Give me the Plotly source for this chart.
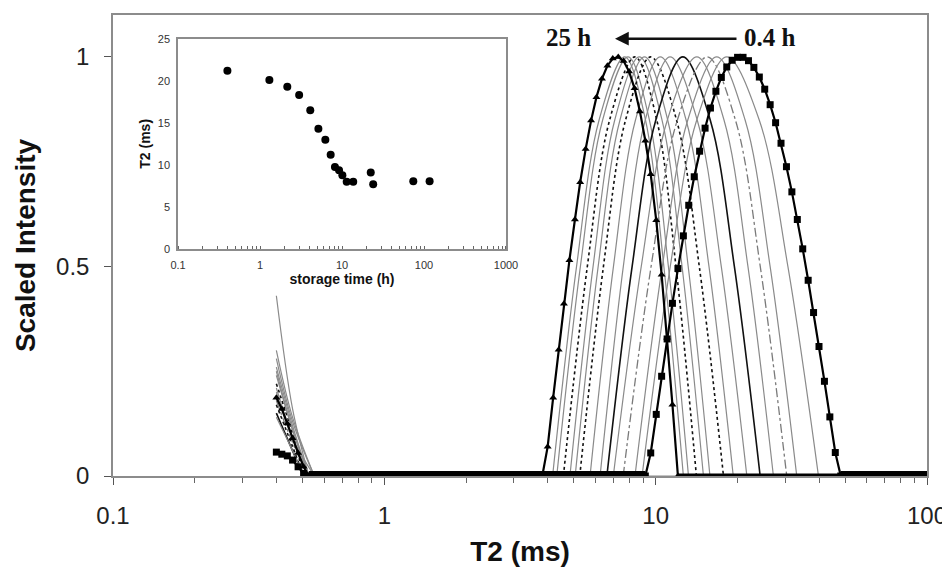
import plotly.graph_objects as go

# ---------------- inset data: T2 vs storage time ----------------
inset_hours = [0.4, 1.3, 2.15, 3.0, 4.1, 5.15, 6.26, 7.27, 8.2, 9.2, 10.1, 11.4, 13.7, 22.4, 24.0, 74.0, 117.0]
inset_t2 = [21.2, 20.1, 19.3, 18.3, 16.5, 14.3, 13.0, 11.2, 9.75, 9.35, 8.77, 8.0, 8.0, 9.1, 7.7, 8.05, 8.05]

# ---------------- main chart: 0.4 h curve (squares) ----------------
sq_short_t2 = [0.4, 0.419, 0.439, 0.459, 0.481, 0.504, 0.527]
sq_short_int = [0.057, 0.052, 0.048, 0.038, 0.022, 0.006, 0.0]
sq_peak_t2 = [9.16, 9.59, 10.05, 10.52, 11.02, 11.53, 12.08, 12.65, 13.24, 13.87, 14.52, 15.21, 15.92,
              16.67, 17.46, 18.28, 19.14, 20.04, 20.99, 21.98, 23.01, 24.10, 25.23, 26.42, 27.67,
              28.97, 30.34, 31.77, 33.27, 34.83, 36.48, 38.19, 39.99, 41.88, 43.85, 45.92, 48.1, 100.0]
sq_peak_int = [0.0, 0.055, 0.147, 0.238, 0.327, 0.412, 0.495, 0.573, 0.646, 0.714, 0.775, 0.830, 0.878,
               0.918, 0.951, 0.976, 0.992, 0.999, 0.999, 0.991, 0.975, 0.952, 0.923, 0.886, 0.843,
               0.794, 0.738, 0.678, 0.612, 0.542, 0.467, 0.390, 0.309, 0.226, 0.141, 0.056, 0.0, 0.0]

# ---------------- main chart: 25 h curve (triangles) ----------------
tri_short_t2 = [0.4, 0.419, 0.439, 0.459, 0.481, 0.504, 0.527]
tri_short_int = [0.187, 0.16, 0.125, 0.09, 0.055, 0.022, 0.0]
tri_peak_t2 = [3.82, 4.00, 4.19, 4.39, 4.59, 4.81, 5.04, 5.27, 5.52, 5.78, 6.05, 6.34, 6.64, 6.95,
               7.28, 7.62, 7.98, 8.36, 8.75, 9.16, 9.59, 10.05, 10.52, 11.02, 11.53, 12.08, 100.0]
tri_peak_int = [0.0, 0.07, 0.187, 0.301, 0.411, 0.515, 0.612, 0.701, 0.780, 0.848, 0.904, 0.948, 0.979, 0.996,
                1.0, 0.99, 0.965, 0.925, 0.87, 0.80, 0.72, 0.61, 0.48, 0.33, 0.17, 0.0, 0.0]

# zero-intensity stretches (thick marker bands along the baseline)
sq_zero_t2 = [0.527, 9.16, None, 48.1, 100.0]
tri_zero_t2 = [0.527, 3.82, None, 12.08, 100.0]
thin_zero_t2 = [0.504, 100.0]

# ---------------- intermediate storage times (thin curves) ----------------
thin_short0 = [0.26, 0.25, 0.22, 0.21, 0.20, 0.17, 0.43, 0.28, 0.15, 0.30, 0.18, 0.14, 0.24]
thin_short_mid = [0.12, 0.11, 0.10, 0.09, 0.09, 0.07, 0.16, 0.13, 0.06, 0.14, 0.08, 0.06, 0.11]
thin_short_end = [0.527, 0.527, 0.504, 0.527, 0.552, 0.504, 0.527, 0.552, 0.504, 0.552, 0.527, 0.504, 0.527]
thin_start = [4.17, 4.32, 4.57, 4.83, 5.05, 5.25, 5.73, 6.24, 6.61, 6.98, 7.59, 8.39, 8.91]
thin_half_left = [5.11, 5.28, 5.60, 5.88, 6.14, 6.42, 6.99, 7.60, 8.19, 8.85, 9.62, 10.58, 11.32]
thin_c85_left = [6.19, 6.38, 6.77, 7.07, 7.39, 7.75, 8.43, 9.16, 10.02, 11.05, 12.03, 13.14, 14.18]
thin_peak = [7.69, 7.91, 8.39, 8.71, 9.10, 9.59, 10.40, 11.30, 12.59, 14.19, 15.49, 16.79, 18.28]
thin_c85_right = [9.17, 9.48, 10.09, 10.55, 11.07, 11.93, 12.94, 14.22, 15.88, 17.85, 19.66, 21.35, 24.07]
thin_half_right = [10.72, 11.14, 11.88, 12.51, 13.18, 14.48, 15.72, 17.45, 19.50, 21.88, 24.29, 26.41, 30.71]
thin_end = [12.65, 13.21, 14.13, 15.0, 15.85, 17.78, 19.32, 21.68, 24.27, 27.16, 30.41, 33.11, 39.81]
key_levels = [0.0, 0.5, 0.85, 1.0, 0.85, 0.5, 0.0]
thin_style = ["g", "g", "dot", "g", "g", "dot", "g", "g", "k", "g", "dashdot", "g", "g"]

x_ticks = [0.1, 1, 10, 100]
x_ticktext = ["0.1", "1", "10", "100"]
y_ticks = [0, 0.5, 1]
y_ticktext = ["0", "0.5", "1"]
inset_x_ticks = [0.1, 1, 10, 100, 1000]
inset_x_ticktext = ["0.1", "1", "10", "100", "1000"]

FONT = "Liberation Sans, Arial, sans-serif"
SERIF = "Liberation Serif, Times New Roman, serif"

styles = {
    "g": dict(color="#8a8a8a", width=1.2),
    "dot": dict(color="#111111", width=1.6, dash="dot"),
    "k": dict(color="#111111", width=1.6),
    "dashdot": dict(color="#7a7a7a", width=1.3, dash="dashdot"),
}

fig = go.Figure()

# thin baseline shared by the intermediate curves
fig.add_trace(go.Scatter(x=thin_zero_t2, y=[0.0 for _ in thin_zero_t2], mode="lines",
                         line=dict(color="#8a8a8a", width=1.2), showlegend=False, hoverinfo="skip"))

for i in range(len(thin_peak)):
    st = styles[thin_style[i]]
    # short-T2 component
    fig.add_trace(go.Scatter(x=[0.4, 0.459, thin_short_end[i]],
                             y=[thin_short0[i], thin_short_mid[i], 0.0],
                             mode="lines", line=dict(shape="spline", **st),
                             showlegend=False, hoverinfo="skip"))
    # main peak
    xs = [thin_start[i], thin_half_left[i], thin_c85_left[i], thin_peak[i],
          thin_c85_right[i], thin_half_right[i], thin_end[i]]
    fig.add_trace(go.Scatter(x=xs, y=key_levels, mode="lines", line=dict(shape="spline", **st),
                             showlegend=False, hoverinfo="skip"))

# baseline bands
fig.add_trace(go.Scatter(x=tri_zero_t2, y=[0 if v is not None else None for v in tri_zero_t2], mode="lines",
                         line=dict(color="black", width=5), showlegend=False, hoverinfo="skip"))
fig.add_trace(go.Scatter(x=sq_zero_t2, y=[0 if v is not None else None for v in sq_zero_t2], mode="lines",
                         line=dict(color="black", width=10), showlegend=False, hoverinfo="skip"))

# 25 h (triangles)
fig.add_trace(go.Scatter(x=tri_short_t2 + tri_peak_t2, y=tri_short_int + tri_peak_int, mode="lines+markers",
                         line=dict(color="black", width=2.2),
                         marker=dict(symbol="triangle-up", size=7, color="black"),
                         showlegend=False))
# 0.4 h (squares)
fig.add_trace(go.Scatter(x=sq_short_t2 + sq_peak_t2, y=sq_short_int + sq_peak_int, mode="lines+markers",
                         line=dict(color="black", width=2.2),
                         marker=dict(symbol="square", size=7, color="black"),
                         showlegend=False))

# inset
fig.add_trace(go.Scatter(x=inset_hours, y=inset_t2, mode="markers", xaxis="x2", yaxis="y2",
                         marker=dict(symbol="circle", size=8, color="black"), showlegend=False))

axis_line = "#8c8c8c"
fig.update_layout(
    width=942, height=562,
    margin=dict(l=105, r=23, t=1, b=94),
    paper_bgcolor="white", plot_bgcolor="white",
    font=dict(family=FONT, color="#222222"),
    xaxis=dict(type="log", range=[-1, 2], tickvals=x_ticks, ticktext=x_ticktext,
               showgrid=False, zeroline=False, showline=True, linecolor=axis_line, linewidth=1.5,
               mirror=True, ticks="outside", ticklen=7, tickcolor="#555", tickwidth=1,
               tickfont=dict(size=24, color="#222"), ticklabelstandoff=10,
               minor=dict(dtick="D1", ticks="outside", ticklen=5, tickcolor="#666", showgrid=False),
               title=dict(text="<b>T2 (ms)</b>", font=dict(size=28, color="#111"), standoff=14)),
    yaxis=dict(range=[0, 1.1], tickvals=y_ticks, ticktext=y_ticktext,
               showgrid=False, zeroline=False, showline=True, linecolor=axis_line, linewidth=1.5,
               mirror=True, ticks="outside", ticklen=7, tickcolor="#555",
               tickfont=dict(size=24, color="#222"), ticklabelstandoff=10,
               title=dict(text="<b>Scaled Intensity</b>", font=dict(size=28, color="#111"), standoff=12)),
    xaxis2=dict(type="log", range=[-1, 3], domain=[0.0799, 0.4828], anchor="y2",
                tickvals=inset_x_ticks, ticktext=inset_x_ticktext,
                showgrid=False, zeroline=False, showline=True, linecolor=axis_line, linewidth=1.5,
                mirror=True, ticks="", tickfont=dict(size=11, color="#333"), ticklabelstandoff=5,
                minor=dict(dtick="D1", ticks="inside", ticklen=3, tickcolor="#666", showgrid=False),
                title=dict(text="<b>storage time (h)</b>", font=dict(size=14, color="#111"), standoff=4)),
    yaxis2=dict(range=[0, 25], dtick=5, domain=[0.4925, 0.9486], anchor="x2",
                showgrid=False, zeroline=False, showline=True, linecolor=axis_line, linewidth=1.5,
                mirror=True, ticks="", tickfont=dict(size=11, color="#333"), ticklabelstandoff=4,
                title=dict(text="<b>T2 (ms)</b>", font=dict(size=14, color="#111"), standoff=4)),
    annotations=[
        dict(text="<b>25 h</b>", xref="paper", yref="paper", x=0.559, y=0.951, showarrow=False,
             xanchor="center", yanchor="middle",
             font=dict(family=SERIF, size=25, color="#111")),
        dict(text="<b>0.4 h</b>", xref="paper", yref="paper", x=0.807, y=0.951, showarrow=False,
             xanchor="center", yanchor="middle",
             font=dict(family=SERIF, size=25, color="#111")),
        dict(text="", xref="paper", yref="paper", x=0.6167, y=0.9486, ax=123, ay=0,
             showarrow=True, arrowhead=2, arrowsize=1.1, arrowwidth=2.5, arrowcolor="#111"),
    ],
)

fig.write_html("out.html")
